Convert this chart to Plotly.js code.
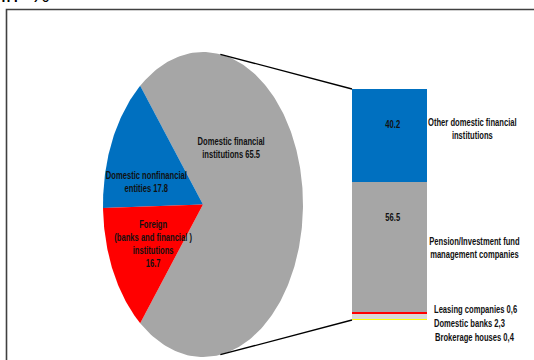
<!DOCTYPE html>
<html>
<head>
<meta charset="utf-8">
<script src="https://cdn.plot.ly/plotly-3.0.1.min.js"></script>
<style>html,body{margin:0;padding:0;background:#fff;}#chart{width:534px;height:360px;}</style>
</head>
<body>
<div id="chart"></div>
<script>
// ---- data ----
const pieLabels = ["Domestic financial<br>institutions", "Domestic nonfinancial<br>entities", "Foreign<br>(banks and financial )<br>institutions<br>"];
const pieValues = [65.5, 17.8, 16.7];
const pieColors = ["#a6a6a6", "#0070c0", "#ff0000"];

const barLabels = ["Brokerage houses", "Domestic banks", "Leasing companies", "Pension/Investment fund<br>management companies", "Other domestic financial<br>institutions"];
const barValues = [0.4, 2.3, 0.6, 56.5, 40.2];
const barColors = ["#ffff00", "#d9d9d9", "#ff0000", "#a6a6a6", "#0070c0"];
const unitLabel = "in\u00a0\u00a0%";

// ---- geometry helpers (layout only) ----
const W = 534, H = 360;
const px = x => x / W, py = y => 1 - y / H;
const cx = 203, cy = 204.5, ra = 100, rb = 152.5;

// pie slices as filled polygons on an elliptical axis; angles from values
const total = pieValues.reduce((s, v) => s + v, 0);
const traces = [];
let start = -pieValues[0] / total * 180; // first slice centred on the right
pieValues.forEach((v, i) => {
  const span = v / total * 360;
  const xs = [0], ys = [0];
  const n = Math.max(8, Math.ceil(span));
  for (let k = 0; k <= n; k++) {
    const phi = (start + span * k / n) * Math.PI / 180; // screen angle
    const t = Math.atan2(ra * Math.sin(phi), rb * Math.cos(phi));
    xs.push(Math.cos(t)); ys.push(Math.sin(t));
  }
  xs.push(0); ys.push(0);
  traces.push({type: "scatter", mode: "lines", x: xs, y: ys, fill: "toself",
    fillcolor: pieColors[i], line: {width: 0, color: pieColors[i]},
    xaxis: "x", yaxis: "y", hoverinfo: "skip", showlegend: false});
  start += span;
});

// stacked bar
barValues.forEach((v, i) => {
  traces.push({type: "bar", x: [0], y: [v], width: 1, marker: {color: barColors[i], line: {width: 0}},
    xaxis: "x2", yaxis: "y2", hoverinfo: "skip", showlegend: false});
});

const font = {family: "'Liberation Sans', Arial, sans-serif", size: 10, color: "#111", weight: "bold"};
const ann = (text, x, y, align, xanchor) => ({text: text, xref: "paper", yref: "paper", x: px(x), y: py(y),
  xanchor: xanchor || "center", yanchor: "middle", align: align || "center", showarrow: false, font: font});

const fmt = v => String(v).replace(".", ",");
const annotations = [
  ann(pieLabels[0] + " " + pieValues[0], 231, 148),
  ann(pieLabels[1] + " " + pieValues[1], 146, 182),
  ann(pieLabels[2] + pieValues[2], 153, 244),
  ann(String(barValues[4]), 393, 124),
  ann(String(barValues[3]), 393, 217),
  ann(barLabels[4], 472, 129),
  ann(barLabels[3], 474, 248),
  ann(barLabels[2] + " " + fmt(barValues[2]), 432, 309, "left", "left"),
  ann(barLabels[1] + " " + fmt(barValues[1]), 432, 323, "left", "left"),
  ann(barLabels[0] + " " + fmt(barValues[0]), 433, 337, "left", "left"),
  {text: unitLabel, xref: "paper", yref: "paper", x: px(-1), y: py(9), xanchor: "left", yanchor: "bottom",
   showarrow: false, font: {family: "'Liberation Sans', Arial, sans-serif", size: 22, color: "#000"}}
];

// connector lines from pie to bar
const tTop = 80 * Math.PI / 180;
const shapes = [
  {type: "rect", xref: "paper", yref: "paper", x0: px(6.5), x1: px(545), y0: py(9.5), y1: py(375),
   line: {color: "#404040", width: 1.6}, fillcolor: "rgba(0,0,0,0)", layer: "below"},
  {type: "line", xref: "paper", yref: "paper", x0: px(cx + ra * Math.cos(tTop)), y0: py(cy - rb * Math.sin(tTop)),
   x1: px(352), y1: py(89), line: {color: "#000", width: 1.3}},
  {type: "line", xref: "paper", yref: "paper", x0: px(cx + ra * Math.cos(tTop)), y0: py(cy + rb * Math.sin(tTop)),
   x1: px(352), y1: py(320), line: {color: "#000", width: 1.3}}
];

const hidden = {visible: false, fixedrange: true};
const layout = {
  width: W, height: H, margin: {l: 0, r: 0, t: 0, b: 0},
  paper_bgcolor: "#fff", plot_bgcolor: "rgba(0,0,0,0)",
  barmode: "stack", bargap: 0, showlegend: false,
  xaxis: Object.assign({range: [-1.05, 1.05], domain: [px(cx - 1.05 * ra), px(cx + 1.05 * ra)]}, hidden),
  yaxis: Object.assign({range: [-(H - cy) / rb, 1.05], domain: [0, py(cy - 1.05 * rb)]}, hidden),
  xaxis2: Object.assign({range: [-0.5, 0.5], domain: [px(352), px(427)], anchor: "y2"}, hidden),
  yaxis2: Object.assign({range: [0, 100], domain: [py(320), py(89)], anchor: "x2"}, hidden),
  annotations: annotations, shapes: shapes
};

Plotly.newPlot("chart", traces, layout, {staticPlot: true, displayModeBar: false}).then(() => {
  // the reference uses a condensed face: narrow the label texts horizontally
  document.querySelectorAll("#chart g.annotation").forEach(g => {
    const idx = +g.getAttribute("data-index");
    if (idx === annotations.length - 1) return;
    const t = g.querySelector("text.annotation-text");
    if (!t) return;
    const left = annotations[idx].xanchor === "left";
    t.style.transformBox = "fill-box";
    t.style.transformOrigin = left ? "left center" : "center center";
    t.style.transform = "scaleX(0.76)";
  });
});
</script>
</body>
</html>
